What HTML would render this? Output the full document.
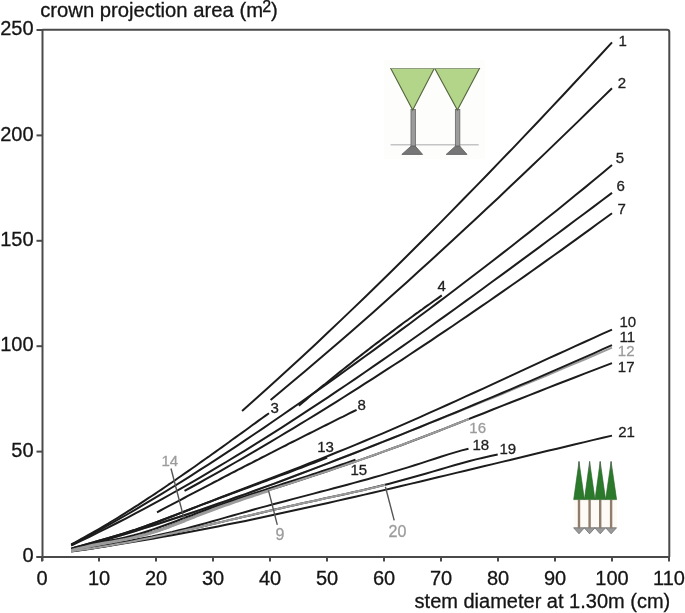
<!DOCTYPE html>
<html><head><meta charset="utf-8"><style>
html,body{margin:0;padding:0;background:#fff;}
svg{display:block;font-family:"Liberation Sans",sans-serif;filter:blur(0.35px);}
text{stroke-width:0.3px;}
</style></head><body>
<svg width="685" height="613" viewBox="0 0 685 613">
<rect width="685" height="613" fill="#fff"/>
<path d="M42.5 29.8 H667 Q669.3 29.8 669.3 32 V557" fill="none" stroke="#4a4a4a" stroke-width="2"/>
<line x1="42.5" y1="29" x2="42.5" y2="561" stroke="#4a4a4a" stroke-width="2"/>
<line x1="36.5" y1="557" x2="669.3" y2="557" stroke="#4a4a4a" stroke-width="2"/>
<line x1="36.5" y1="30.0" x2="42.5" y2="30.0" stroke="#4a4a4a" stroke-width="2"/>
<text x="33.6" y="35.2" text-anchor="end" font-size="20" fill="#151515" stroke="#151515">250</text>
<line x1="36.5" y1="135.4" x2="42.5" y2="135.4" stroke="#4a4a4a" stroke-width="2"/>
<text x="33.6" y="140.6" text-anchor="end" font-size="20" fill="#151515" stroke="#151515">200</text>
<line x1="36.5" y1="240.8" x2="42.5" y2="240.8" stroke="#4a4a4a" stroke-width="2"/>
<text x="33.6" y="246.0" text-anchor="end" font-size="20" fill="#151515" stroke="#151515">150</text>
<line x1="36.5" y1="346.2" x2="42.5" y2="346.2" stroke="#4a4a4a" stroke-width="2"/>
<text x="33.6" y="351.4" text-anchor="end" font-size="20" fill="#151515" stroke="#151515">100</text>
<line x1="36.5" y1="451.6" x2="42.5" y2="451.6" stroke="#4a4a4a" stroke-width="2"/>
<text x="33.6" y="456.8" text-anchor="end" font-size="20" fill="#151515" stroke="#151515">50</text>
<line x1="36.5" y1="557.0" x2="42.5" y2="557.0" stroke="#4a4a4a" stroke-width="2"/>
<text x="33.6" y="562.2" text-anchor="end" font-size="20" fill="#151515" stroke="#151515">0</text>
<line x1="42.0" y1="557" x2="42.0" y2="561.5" stroke="#4a4a4a" stroke-width="2"/>
<text x="42.0" y="584.8" text-anchor="middle" font-size="20" fill="#151515" stroke="#151515">0</text>
<line x1="99.0" y1="557" x2="99.0" y2="561.5" stroke="#4a4a4a" stroke-width="2"/>
<text x="99.0" y="584.8" text-anchor="middle" font-size="20" fill="#151515" stroke="#151515">10</text>
<line x1="156.0" y1="557" x2="156.0" y2="561.5" stroke="#4a4a4a" stroke-width="2"/>
<text x="156.0" y="584.8" text-anchor="middle" font-size="20" fill="#151515" stroke="#151515">20</text>
<line x1="213.0" y1="557" x2="213.0" y2="561.5" stroke="#4a4a4a" stroke-width="2"/>
<text x="213.0" y="584.8" text-anchor="middle" font-size="20" fill="#151515" stroke="#151515">30</text>
<line x1="270.0" y1="557" x2="270.0" y2="561.5" stroke="#4a4a4a" stroke-width="2"/>
<text x="270.0" y="584.8" text-anchor="middle" font-size="20" fill="#151515" stroke="#151515">40</text>
<line x1="327.0" y1="557" x2="327.0" y2="561.5" stroke="#4a4a4a" stroke-width="2"/>
<text x="327.0" y="584.8" text-anchor="middle" font-size="20" fill="#151515" stroke="#151515">50</text>
<line x1="384.0" y1="557" x2="384.0" y2="561.5" stroke="#4a4a4a" stroke-width="2"/>
<text x="384.0" y="584.8" text-anchor="middle" font-size="20" fill="#151515" stroke="#151515">60</text>
<line x1="441.0" y1="557" x2="441.0" y2="561.5" stroke="#4a4a4a" stroke-width="2"/>
<text x="441.0" y="584.8" text-anchor="middle" font-size="20" fill="#151515" stroke="#151515">70</text>
<line x1="498.0" y1="557" x2="498.0" y2="561.5" stroke="#4a4a4a" stroke-width="2"/>
<text x="498.0" y="584.8" text-anchor="middle" font-size="20" fill="#151515" stroke="#151515">80</text>
<line x1="555.0" y1="557" x2="555.0" y2="561.5" stroke="#4a4a4a" stroke-width="2"/>
<text x="555.0" y="584.8" text-anchor="middle" font-size="20" fill="#151515" stroke="#151515">90</text>
<line x1="612.0" y1="557" x2="612.0" y2="561.5" stroke="#4a4a4a" stroke-width="2"/>
<text x="612.0" y="584.8" text-anchor="middle" font-size="20" fill="#151515" stroke="#151515">100</text>
<line x1="669.0" y1="557" x2="669.0" y2="561.5" stroke="#4a4a4a" stroke-width="2"/>
<text x="669.0" y="584.8" text-anchor="middle" font-size="20" fill="#151515" stroke="#151515">110</text>
<text x="40.2" y="17.3" font-size="20.25" fill="#151515" stroke="#151515">crown projection area (m<tspan dx="-0.9" dy="-5.6" font-size="16">2</tspan><tspan dx="0" dy="5.6">)</tspan></text>
<text x="414.6" y="607.6" font-size="20" fill="#151515" stroke="#151515">stem diameter at 1.30m (cm)</text>
<g>
<rect x="384" y="60" width="101" height="99" fill="#fdfdfc"/>
<line x1="390.6" y1="144.8" x2="478.7" y2="144.8" stroke="#c4c4c4" stroke-width="1.6"/>
<rect x="411" y="109.5" width="4.4" height="37" fill="#9c9c9c" stroke="#6e6e6e" stroke-width="0.9"/>
<rect x="455.4" y="109.5" width="4.4" height="37" fill="#9c9c9c" stroke="#6e6e6e" stroke-width="0.9"/>
<path d="M401.8 154.4 L422.6 154.4 L415.2 146 L411.2 146 Z" fill="#767676" stroke="#5a5a5a" stroke-width="0.8"/>
<path d="M446.2 154.4 L467 154.4 L459.6 146 L455.6 146 Z" fill="#767676" stroke="#5a5a5a" stroke-width="0.8"/>
<path d="M390.8 68.5 L434.2 68.5 L412.7 110 Z" fill="#b3d58a" stroke="#56663f" stroke-width="1.1" stroke-linejoin="miter"/>
<path d="M434.8 68.5 L479.4 68.5 L457.4 110 Z" fill="#b3d58a" stroke="#56663f" stroke-width="1.1" stroke-linejoin="miter"/>
<line x1="391" y1="68.5" x2="479" y2="68.5" stroke="#8f9c80" stroke-width="1.2"/>
</g>
<g>
<rect x="574" y="500" width="43" height="28" fill="#fefbf6"/>
<path d="M573.6 527.8 L584.4 527.8 L579.0 533.8 Z" fill="#9a9a9a" stroke="#6a6a6a" stroke-width="0.8" stroke-linejoin="round"/>
<rect x="577.8" y="499.6" width="2.4" height="28.6" fill="#8f7d6e"/>
<path d="M584.2 527.8 L595.0 527.8 L589.6 533.8 Z" fill="#9a9a9a" stroke="#6a6a6a" stroke-width="0.8" stroke-linejoin="round"/>
<rect x="588.4" y="499.6" width="2.4" height="28.6" fill="#8f7d6e"/>
<path d="M594.8 527.8 L605.6 527.8 L600.2 533.8 Z" fill="#9a9a9a" stroke="#6a6a6a" stroke-width="0.8" stroke-linejoin="round"/>
<rect x="599.0" y="499.6" width="2.4" height="28.6" fill="#8f7d6e"/>
<path d="M605.7 527.8 L616.5 527.8 L611.1 533.8 Z" fill="#9a9a9a" stroke="#6a6a6a" stroke-width="0.8" stroke-linejoin="round"/>
<rect x="609.9" y="499.6" width="2.4" height="28.6" fill="#8f7d6e"/>
<path d="M573.7 499.6 L584.4 499.6 L579 461.5 Z" fill="#2b7a2b" stroke="#235f23" stroke-width="0.6" stroke-linejoin="round"/>
<line x1="579" y1="461.5" x2="579" y2="470" stroke="#5a6a5a" stroke-width="1.1"/>
<path d="M584.4 499.6 L595 499.6 L589.6 461.5 Z" fill="#2b7a2b" stroke="#235f23" stroke-width="0.6" stroke-linejoin="round"/>
<line x1="589.6" y1="461.5" x2="589.6" y2="470" stroke="#5a6a5a" stroke-width="1.1"/>
<path d="M595 499.6 L605.6 499.6 L600.2 461.5 Z" fill="#2b7a2b" stroke="#235f23" stroke-width="0.6" stroke-linejoin="round"/>
<line x1="600.2" y1="461.5" x2="600.2" y2="470" stroke="#5a6a5a" stroke-width="1.1"/>
<path d="M605.6 499.6 L616.6 499.6 L611.1 461.5 Z" fill="#2b7a2b" stroke="#235f23" stroke-width="0.6" stroke-linejoin="round"/>
<line x1="611.1" y1="461.5" x2="611.1" y2="470" stroke="#5a6a5a" stroke-width="1.1"/>
</g>
<polyline points="71.2,549.2 80.4,546.8 89.5,544.3 98.7,541.8 107.9,539.2 117.0,536.5 126.2,533.8 135.4,531.0 144.5,528.1 153.7,525.2 162.9,522.3 172.0,519.3 181.2,516.3 190.4,513.2 199.5,510.1 208.7,507.0 217.9,503.8 227.0,500.6 236.2,497.3 245.4,494.1 254.5,490.8 263.7,487.4 272.9,484.1 282.0,480.7 291.2,477.3 300.4,473.8 309.5,470.4 318.7,466.9 327.9,463.4 337.0,459.8 346.2,456.3 355.3,452.7 364.5,449.1 373.7,445.5 382.8,441.9 392.0,438.2 401.2,434.6 410.3,430.9 419.5,427.2 428.7,423.4 437.8,419.8 447.0,416.2 456.2,412.5 465.3,408.8 474.5,405.1 483.7,401.4 492.8,397.7 502.0,394.0 511.2,390.2 520.3,386.4 529.5,382.6 538.7,378.8 547.8,375.0 557.0,371.1 566.2,367.2 575.3,363.4 584.5,359.5 593.7,355.5 602.8,351.6 612.0,347.6" fill="none" stroke="#9c9c9c" stroke-width="2.0" stroke-linecap="butt" stroke-linejoin="round"/>
<polyline points="242.1,410.9 254.4,400.0 266.7,389.0 279.1,377.8 291.4,366.6 303.7,355.2 316.1,343.7 328.4,332.1 340.7,320.4 353.0,308.6 365.4,296.7 377.7,284.8 390.0,272.7 402.4,260.5 414.7,248.3 427.0,236.0 439.4,223.6 451.7,211.1 464.0,198.5 476.4,185.9 488.7,173.2 501.0,160.4 513.4,147.6 525.7,134.6 538.0,121.7 550.3,108.6 562.7,95.5 575.0,82.3 587.3,69.1 599.7,55.8 612.0,42.4" fill="none" stroke="#1c1c1c" stroke-width="2.0" stroke-linecap="butt" stroke-linejoin="round"/>
<polyline points="270.6,400.0 282.0,390.5 293.3,381.1 304.7,371.5 316.1,361.8 327.5,352.1 338.9,342.3 350.2,332.4 361.6,322.4 373.0,312.4 384.4,302.3 395.8,292.1 407.1,281.9 418.5,271.6 429.9,261.2 441.3,250.8 452.7,240.3 464.0,229.8 475.4,219.2 486.8,208.6 498.2,197.9 509.6,187.1 521.0,176.3 532.3,165.5 543.7,154.6 555.1,143.6 566.5,132.6 577.9,121.6 589.2,110.5 600.6,99.4 612.0,88.2" fill="none" stroke="#1c1c1c" stroke-width="2.0" stroke-linecap="butt" stroke-linejoin="round"/>
<polyline points="71.2,544.3 74.6,542.6 77.9,540.8 81.3,538.9 84.6,537.1 88.0,535.2 91.3,533.3 94.7,531.4 98.0,529.5 101.4,527.5 104.7,525.5 108.1,523.6 111.4,521.5 114.8,519.5 118.1,517.5 121.5,515.4 124.8,513.3 128.2,511.2 131.5,509.1 134.9,506.9 138.3,504.8 141.6,502.6 145.0,500.4 148.3,498.2 151.7,496.0 155.0,493.8 158.4,491.5 161.7,489.3 165.1,487.0 168.4,484.7 171.8,482.5 175.1,480.2 178.5,477.8 181.8,475.5 185.2,473.2 188.5,470.9 191.9,468.5 195.2,466.2 198.6,463.8 201.9,461.4 205.3,459.0 208.7,456.7 212.0,454.3 215.4,451.9 218.7,449.5 222.1,447.1 225.4,444.7 228.8,442.3 232.1,439.8 235.5,437.4 238.8,435.0 242.2,432.6 245.5,430.2 248.9,427.7 252.2,425.3 255.6,422.9 258.9,420.4 262.3,418.0 265.6,415.6 269.0,413.2" fill="none" stroke="#1c1c1c" stroke-width="2.0" stroke-linecap="butt" stroke-linejoin="round"/>
<polyline points="298.8,405.8 301.2,403.7 303.6,401.7 306.1,399.7 308.5,397.6 310.9,395.6 313.3,393.6 315.8,391.6 318.2,389.6 320.6,387.6 323.0,385.6 325.5,383.7 327.9,381.7 330.3,379.7 332.7,377.8 335.2,375.8 337.6,373.8 340.0,371.9 342.4,370.0 344.9,368.0 347.3,366.1 349.7,364.2 352.1,362.3 354.5,360.3 357.0,358.4 359.4,356.5 361.8,354.6 364.2,352.8 366.7,350.9 369.1,349.0 371.5,347.1 373.9,345.3 376.4,343.4 378.8,341.6 381.2,339.7 383.6,337.9 386.1,336.0 388.5,334.2 390.9,332.4 393.3,330.6 395.7,328.7 398.2,326.9 400.6,325.1 403.0,323.3 405.4,321.5 407.9,319.8 410.3,318.0 412.7,316.2 415.1,314.4 417.6,312.7 420.0,310.9 422.4,309.2 424.8,307.4 427.3,305.7 429.7,304.0 432.1,302.2 434.5,300.5 437.0,298.8 439.4,297.1 441.8,295.4" fill="none" stroke="#1c1c1c" stroke-width="2.0" stroke-linecap="butt" stroke-linejoin="round"/>
<polyline points="71.2,545.0 80.4,540.3 89.5,535.4 98.7,530.4 107.9,525.4 117.0,520.2 126.2,515.0 135.4,509.6 144.5,504.2 153.7,498.7 162.9,493.2 172.0,487.5 181.2,481.8 190.4,476.1 199.5,470.2 208.7,464.3 217.9,458.4 227.0,452.3 236.2,446.3 245.4,440.1 254.5,434.0 263.7,427.8 272.9,421.5 282.0,415.2 291.2,408.9 300.4,402.5 309.5,396.0 318.7,389.6 327.9,383.1 337.0,376.6 346.2,370.0 355.3,363.4 364.5,356.8 373.7,350.1 382.8,343.4 392.0,336.7 401.2,329.9 410.3,323.2 419.5,316.3 428.7,309.5 437.8,302.6 447.0,295.7 456.2,288.8 465.3,281.8 474.5,274.8 483.7,267.8 492.8,260.7 502.0,253.6 511.2,246.5 520.3,239.3 529.5,232.1 538.7,224.8 547.8,217.5 557.0,210.2 566.2,202.8 575.3,195.3 584.5,187.9 593.7,180.3 602.8,172.7 612.0,165.1" fill="none" stroke="#1c1c1c" stroke-width="2.0" stroke-linecap="butt" stroke-linejoin="round"/>
<polyline points="71.2,545.5 80.4,541.2 89.5,536.8 98.7,532.2 107.9,527.7 117.0,523.0 126.2,518.3 135.4,513.4 144.5,508.6 153.7,503.6 162.9,498.6 172.0,493.5 181.2,488.3 190.4,483.1 199.5,477.8 208.7,472.4 217.9,466.9 227.0,461.5 236.2,455.9 245.4,450.3 254.5,444.6 263.7,438.9 272.9,433.1 282.0,427.3 291.2,421.4 300.4,415.4 309.5,409.4 318.7,403.4 327.9,397.3 337.0,391.2 346.2,385.0 355.3,378.8 364.5,372.5 373.7,366.2 382.8,359.9 392.0,353.5 401.2,347.1 410.3,340.7 419.5,334.2 428.7,327.7 437.8,321.1 447.0,314.6 456.2,308.0 465.3,301.4 474.5,294.7 483.7,288.0 492.8,281.3 502.0,274.6 511.2,267.9 520.3,261.1 529.5,254.4 538.7,247.6 547.8,240.8 557.0,234.0 566.2,227.1 575.3,220.3 584.5,213.5 593.7,206.6 602.8,199.8 612.0,192.9" fill="none" stroke="#1c1c1c" stroke-width="2.0" stroke-linecap="butt" stroke-linejoin="round"/>
<polyline points="184.5,490.9 191.7,487.0 199.0,483.0 206.2,478.9 213.5,474.9 220.7,470.8 228.0,466.6 235.2,462.5 242.5,458.3 249.7,454.1 257.0,449.9 264.2,445.6 271.4,441.3 278.7,437.0 285.9,432.7 293.2,428.3 300.4,423.9 307.7,419.5 314.9,415.1 322.2,410.6 329.4,406.1 336.7,401.6 343.9,397.0 351.2,392.4 358.4,387.8 365.6,383.2 372.9,378.6 380.1,373.9 387.4,369.2 394.6,364.5 401.9,359.8 409.1,355.0 416.4,350.2 423.6,345.4 430.9,340.6 438.1,335.7 445.3,330.8 452.6,326.0 459.8,321.0 467.1,316.1 474.3,311.1 481.6,306.2 488.8,301.2 496.1,296.1 503.3,291.1 510.6,286.0 517.8,281.0 525.1,275.9 532.3,270.7 539.5,265.6 546.8,260.4 554.0,255.3 561.3,250.1 568.5,244.9 575.8,239.6 583.0,234.4 590.3,229.1 597.5,223.8 604.8,218.5 612.0,213.2" fill="none" stroke="#1c1c1c" stroke-width="2.0" stroke-linecap="butt" stroke-linejoin="round"/>
<polyline points="157.0,512.3 160.4,510.5 163.8,508.7 167.1,506.9 170.5,505.2 173.9,503.4 177.3,501.6 180.7,499.8 184.1,498.0 187.4,496.2 190.8,494.4 194.2,492.7 197.6,490.9 201.0,489.1 204.4,487.3 207.7,485.6 211.1,483.8 214.5,482.0 217.9,480.3 221.3,478.5 224.7,476.7 228.0,475.0 231.4,473.2 234.8,471.5 238.2,469.7 241.6,468.0 245.0,466.2 248.3,464.5 251.7,462.8 255.1,461.0 258.5,459.3 261.9,457.5 265.3,455.8 268.6,454.1 272.0,452.4 275.4,450.6 278.8,448.9 282.2,447.2 285.6,445.5 288.9,443.7 292.3,442.0 295.7,440.3 299.1,438.6 302.5,436.9 305.9,435.2 309.2,433.5 312.6,431.8 316.0,430.1 319.4,428.4 322.8,426.7 326.2,425.0 329.5,423.3 332.9,421.6 336.3,419.9 339.7,418.2 343.1,416.6 346.5,414.9 349.8,413.2 353.2,411.5 356.6,409.9" fill="none" stroke="#1c1c1c" stroke-width="2.0" stroke-linecap="butt" stroke-linejoin="round"/>
<polyline points="71.2,548.6 80.4,546.0 89.5,543.4 98.7,540.8 107.9,538.2 117.0,535.5 126.2,532.7 135.4,529.7 144.5,526.5 153.7,523.2 162.9,519.8 172.0,516.3 181.2,512.8 190.4,509.2 199.5,505.6 208.7,502.1 217.9,498.5 227.0,495.0 236.2,491.5 245.4,488.0 254.5,484.5 263.7,481.0 272.9,477.5 282.0,474.0 291.2,470.4 300.4,466.9 309.5,463.3 318.7,459.7 327.9,456.0 337.0,452.3 346.2,448.6 355.3,444.9 364.5,441.0 373.7,437.2 382.8,433.3 392.0,429.3 401.2,425.3 410.3,421.3 419.5,417.3 428.7,413.2 437.8,409.1 447.0,405.0 456.2,400.8 465.3,396.6 474.5,392.5 483.7,388.3 492.8,384.1 502.0,379.8 511.2,375.6 520.3,371.4 529.5,367.2 538.7,362.9 547.8,358.7 557.0,354.5 566.2,350.3 575.3,346.1 584.5,342.0 593.7,337.8 602.8,333.7 612.0,329.6" fill="none" stroke="#1c1c1c" stroke-width="2.0" stroke-linecap="butt" stroke-linejoin="round"/>
<polyline points="71.2,548.6 75.5,547.3 79.9,546.1 84.2,544.9 88.5,543.7 92.9,542.5 97.2,541.2 101.6,540.0 105.9,538.8 110.2,537.5 114.6,536.2 118.9,534.9 123.2,533.6 127.6,532.2 131.9,530.8 136.3,529.4 140.6,527.9 144.9,526.4 149.3,524.8 153.6,523.3 157.9,521.7 162.3,520.0 166.6,518.4 171.0,516.7 175.3,515.1 179.6,513.4 184.0,511.7 188.3,510.0 192.6,508.3 197.0,506.6 201.3,504.9 205.7,503.3 210.0,501.7 214.3,500.1 218.7,498.4 223.0,496.8 227.3,495.2 231.7,493.6 236.0,492.0 240.4,490.4 244.7,488.8 249.0,487.2 253.4,485.6 257.7,484.0 262.0,482.4 266.4,480.7 270.7,479.1 275.1,477.5 279.4,475.9 283.7,474.3 288.1,472.7 292.4,471.1 296.7,469.4 301.1,467.8 305.4,466.1 309.8,464.4 314.1,462.7 318.4,461.0 322.8,459.3 327.1,457.5" fill="none" stroke="#1c1c1c" stroke-width="2.0" stroke-linecap="butt" stroke-linejoin="round"/>
<polyline points="71.2,549.2 80.4,546.8 89.5,544.3 98.7,541.8 107.9,539.2 117.0,536.5 126.2,533.8 135.4,531.0 144.5,528.1 153.7,525.2 162.9,522.3 172.0,519.3 181.2,516.3 190.4,513.2 199.5,510.1 208.7,507.0 217.9,503.8 227.0,500.6 236.2,497.3 245.4,494.1 254.5,490.8 263.7,487.4 272.9,484.1 282.0,480.7 291.2,477.3 300.4,473.8 309.5,470.4 318.7,466.9 327.9,463.4 337.0,459.8 346.2,456.3 355.3,452.7 364.5,449.1 373.7,445.5 382.8,441.9 392.0,438.2 401.2,434.6 410.3,430.9 419.5,427.2 428.7,423.4 437.8,419.7 447.0,415.9 456.2,412.2 465.3,408.4 474.5,404.5 483.7,400.7 492.8,396.8 502.0,393.0 511.2,389.1 520.3,385.2 529.5,381.3 538.7,377.3 547.8,373.4 557.0,369.4 566.2,365.4 575.3,361.4 584.5,357.3 593.7,353.3 602.8,349.2 612.0,345.1" fill="none" stroke="#1c1c1c" stroke-width="2.0" stroke-linecap="butt" stroke-linejoin="round"/>
<polyline points="71.2,549.6 76.0,548.1 80.8,546.8 85.7,545.5 90.5,544.5 95.3,543.4 100.1,542.5 104.9,541.5 109.7,540.6 114.6,539.7 119.4,538.7 124.2,537.6 129.0,536.5 133.8,535.3 138.7,533.9 143.5,532.5 148.3,531.0 153.1,529.4 157.9,527.7 162.8,526.0 167.6,524.3 172.4,522.5 177.2,520.7 182.0,518.8 186.8,517.0 191.7,515.2 196.5,513.3 201.3,511.5 206.1,509.8 210.9,508.0 215.8,506.3 220.6,504.6 225.4,502.9 230.2,501.3 235.0,499.6 239.9,498.0 244.7,496.4 249.5,494.8 254.3,493.2 259.1,491.6 263.9,490.1 268.8,488.5 273.6,487.0 278.4,485.4 283.2,483.8 288.0,482.3 292.9,480.7 297.7,479.2 302.5,477.6 307.3,476.1 312.1,474.5 317.0,472.9 321.8,471.3 326.6,469.7 331.4,468.1 336.2,466.4 341.0,464.8 345.9,463.1 350.7,461.4 355.5,459.7" fill="none" stroke="#1c1c1c" stroke-width="2.0" stroke-linecap="butt" stroke-linejoin="round"/>
<polyline points="71.2,550.0 80.4,547.6 89.5,545.5 98.7,543.7 107.9,542.1 117.0,540.4 126.2,538.6 135.4,536.6 144.5,534.3 153.7,531.6 162.9,528.6 172.0,525.2 181.2,521.7 190.4,518.0 199.5,514.4 208.7,510.8 217.9,507.5 227.0,504.2 236.2,501.0 245.4,497.9 254.5,494.8 263.7,491.9 272.9,488.9 282.0,486.0 291.2,483.0 300.4,480.1 309.5,477.1 318.7,474.1 327.9,471.0 337.0,467.9 346.2,464.8 355.3,461.6 364.5,458.4 373.7,455.2 382.8,451.9 392.0,448.5 401.2,445.2 410.3,441.7 419.5,438.3 428.7,434.7 437.8,431.2 447.0,427.6 456.2,424.0 465.3,420.4 474.5,416.8 483.7,413.2 492.8,409.5 502.0,405.9 511.2,402.3 520.3,398.7 529.5,395.1 538.7,391.5 547.8,387.9 557.0,384.3 566.2,380.7 575.3,377.2 584.5,373.6 593.7,370.1 602.8,366.6 612.0,363.1" fill="none" stroke="#1c1c1c" stroke-width="2.0" stroke-linecap="butt" stroke-linejoin="round"/>
<polyline points="71.2,551.0 77.9,549.7 84.7,548.4 91.4,547.2 98.1,546.1 104.9,544.9 111.6,543.8 118.3,542.6 125.1,541.5 131.8,540.3 138.5,539.1 145.3,537.8 152.0,536.5 158.7,535.0 165.5,533.5 172.2,532.0 178.9,530.3 185.7,528.6 192.4,526.8 199.1,525.0 205.9,523.1 212.6,521.3 219.3,519.4 226.1,517.4 232.8,515.5 239.5,513.6 246.3,511.7 253.0,509.8 259.7,507.9 266.5,506.1 273.2,504.3 280.0,502.5 286.7,500.7 293.4,498.9 300.2,497.1 306.9,495.4 313.6,493.6 320.4,491.8 327.1,490.1 333.8,488.3 340.6,486.5 347.3,484.7 354.0,482.9 360.8,481.0 367.5,479.2 374.2,477.3 381.0,475.4 387.7,473.4 394.4,471.4 401.2,469.4 407.9,467.4 414.6,465.3 421.4,463.1 428.1,460.9 434.8,458.7 441.6,456.5 448.3,454.4 455.0,452.4 461.8,450.4 468.5,448.7" fill="none" stroke="#1c1c1c" stroke-width="2.0" stroke-linecap="butt" stroke-linejoin="round"/>
<polyline points="71.2,551.2 78.4,550.3 85.7,549.3 92.9,548.2 100.1,547.1 107.3,545.9 114.6,544.6 121.8,543.3 129.0,542.0 136.3,540.6 143.5,539.2 150.7,537.7 157.9,536.2 165.2,534.7 172.4,533.1 179.6,531.6 186.9,529.9 194.1,528.3 201.3,526.7 208.5,525.0 215.8,523.3 223.0,521.6 230.2,519.9 237.5,518.2 244.7,516.5 251.9,514.9 259.1,513.2 266.4,511.5 273.6,509.8 280.8,508.2 288.1,506.5 295.3,504.9 302.5,503.3 309.8,501.7 317.0,500.2 324.2,498.6 331.4,497.1 338.7,495.5 345.9,493.9 353.1,492.3 360.4,490.7 367.6,489.0 374.8,487.3 382.0,485.5 389.3,483.7 396.5,481.8 403.7,479.8 411.0,477.8 418.2,475.8 425.4,473.7 432.6,471.6 439.9,469.5 447.1,467.4 454.3,465.3 461.6,463.3 468.8,461.3 476.0,459.4 483.2,457.7 490.5,456.1 497.7,454.6" fill="none" stroke="#1c1c1c" stroke-width="2.0" stroke-linecap="butt" stroke-linejoin="round"/>
<polyline points="71.2,551.6 80.4,550.3 89.5,548.9 98.7,547.5 107.9,546.1 117.0,544.6 126.2,543.1 135.4,541.6 144.5,540.0 153.7,538.4 162.9,536.8 172.0,535.2 181.2,533.5 190.4,531.7 199.5,530.0 208.7,528.2 217.9,526.4 227.0,524.6 236.2,522.7 245.4,520.9 254.5,519.0 263.7,517.0 272.9,515.1 282.0,513.1 291.2,511.1 300.4,509.1 309.5,507.1 318.7,505.1 327.9,503.0 337.0,500.9 346.2,498.8 355.3,496.7 364.5,494.6 373.7,492.5 382.8,490.4 392.0,488.2 401.2,486.0 410.3,483.9 419.5,481.7 428.7,479.5 437.8,477.3 447.0,475.1 456.2,472.9 465.3,470.7 474.5,468.5 483.7,466.3 492.8,464.1 502.0,461.9 511.2,459.7 520.3,457.5 529.5,455.3 538.7,453.0 547.8,450.8 557.0,448.7 566.2,446.5 575.3,444.3 584.5,442.1 593.7,439.9 602.8,437.8 612.0,435.6" fill="none" stroke="#1c1c1c" stroke-width="2.0" stroke-linecap="butt" stroke-linejoin="round"/>
<polyline points="71.2,550.0 77.9,548.2 84.7,546.6 91.4,545.1 98.2,543.8 104.9,542.6 111.7,541.4 118.4,540.2 125.1,538.9 131.9,537.4 138.6,535.8 145.4,534.1 152.1,532.1 158.9,530.0 165.6,527.6 172.3,525.1 179.1,522.5 185.8,519.8 192.6,517.1 199.3,514.5 206.0,511.9 212.8,509.3 219.5,506.8 226.3,504.4 233.0,502.1 239.8,499.8 246.5,497.5 253.2,495.3 260.0,493.1 266.7,490.9 273.5,488.7 280.2,486.5 287.0,484.4 293.7,482.2 300.4,480.0 307.2,477.8 313.9,475.6 320.7,473.4 327.4,471.2 334.2,468.9 340.9,466.6 347.6,464.3 354.4,462.0 361.1,459.6 367.9,457.2 374.6,454.8 381.3,452.4 388.1,450.0 394.8,447.5 401.6,445.0 408.3,442.5 415.1,439.9 421.8,437.4 428.5,434.8 435.3,432.2 442.0,429.6 448.8,426.9 455.5,424.3 462.3,421.6 469.0,419.0" fill="none" stroke="#9c9c9c" stroke-width="2.0" stroke-linecap="butt" stroke-linejoin="round"/>
<polyline points="71.2,551.2 76.5,550.5 81.8,549.8 87.2,549.0 92.5,548.3 97.8,547.4 103.1,546.6 108.5,545.7 113.8,544.8 119.1,543.8 124.4,542.9 129.7,541.9 135.1,540.9 140.4,539.8 145.7,538.8 151.0,537.7 156.4,536.6 161.7,535.5 167.0,534.3 172.3,533.2 177.6,532.0 183.0,530.8 188.3,529.6 193.6,528.4 198.9,527.2 204.3,526.0 209.6,524.8 214.9,523.5 220.2,522.3 225.5,521.0 230.9,519.8 236.2,518.5 241.5,517.3 246.8,516.0 252.1,514.8 257.5,513.6 262.8,512.3 268.1,511.1 273.4,509.9 278.8,508.6 284.1,507.4 289.4,506.2 294.7,505.0 300.0,503.8 305.4,502.7 310.7,501.5 316.0,500.4 321.3,499.2 326.7,498.1 332.0,497.0 337.3,495.8 342.6,494.6 347.9,493.5 353.3,492.3 358.6,491.1 363.9,489.9 369.2,488.6 374.6,487.4 379.9,486.1 385.2,484.7" fill="none" stroke="#9c9c9c" stroke-width="2.0" stroke-linecap="butt" stroke-linejoin="round"/>
<polyline points="71.2,551.0 74.5,550.0 77.9,549.2 81.2,548.4 84.6,547.6 87.9,546.9 91.3,546.2 94.6,545.5 98.0,544.9 101.3,544.3 104.7,543.7 108.0,543.1 111.3,542.5 114.7,541.8 118.0,541.2 121.4,540.6 124.7,539.9 128.1,539.2 131.4,538.5 134.8,537.8 138.1,537.0 141.5,536.1 144.8,535.2 148.2,534.3 151.5,533.3 154.8,532.3 158.2,531.2 161.5,530.1 164.9,528.9 168.2,527.7 171.6,526.4 174.9,525.1 178.3,523.8 181.6,522.5 185.0,521.2 188.3,519.8 191.6,518.5 195.0,517.2 198.3,515.8 201.7,514.5 205.0,513.2 208.4,512.0 211.7,510.7 215.1,509.5 218.4,508.3 221.8,507.0 225.1,505.9 228.5,504.7 231.8,503.5 235.1,502.3 238.5,501.2 241.8,500.1 245.2,498.9 248.5,497.8 251.9,496.7 255.2,495.6 258.6,494.5 261.9,493.4 265.3,492.4 268.6,491.3" fill="none" stroke="#9c9c9c" stroke-width="2.0" stroke-linecap="butt" stroke-linejoin="round"/>
<polyline points="71.2,550.8 73.1,550.2 75.0,549.7 76.9,549.2 78.8,548.7 80.8,548.3 82.7,547.8 84.6,547.4 86.5,547.0 88.4,546.6 90.3,546.2 92.2,545.8 94.1,545.4 96.1,545.0 98.0,544.7 99.9,544.3 101.8,544.0 103.7,543.6 105.6,543.3 107.5,542.9 109.4,542.6 111.3,542.3 113.3,541.9 115.2,541.6 117.1,541.2 119.0,540.9 120.9,540.5 122.8,540.1 124.7,539.7 126.6,539.3 128.6,538.9 130.5,538.5 132.4,538.1 134.3,537.7 136.2,537.2 138.1,536.8 140.0,536.3 141.9,535.8 143.9,535.3 145.8,534.7 147.7,534.2 149.6,533.7 151.5,533.1 153.4,532.5 155.3,531.9 157.2,531.3 159.1,530.7 161.1,530.0 163.0,529.4 164.9,528.7 166.8,528.0 168.7,527.3 170.6,526.6 172.5,525.9 174.4,525.1 176.4,524.4 178.3,523.6 180.2,522.9 182.1,522.1 184.0,521.4" fill="none" stroke="#9c9c9c" stroke-width="2.0" stroke-linecap="butt" stroke-linejoin="round"/>
<line x1="171" y1="468.5" x2="184" y2="518.5" stroke="#555" stroke-width="1.4"/>
<line x1="268.5" y1="490.4" x2="277.3" y2="524.9" stroke="#555" stroke-width="1.4"/>
<line x1="385.4" y1="486.8" x2="394.2" y2="520.4" stroke="#555" stroke-width="1.4"/>
<text x="618.5" y="45.8" fill="#1e1e1e" stroke="#1e1e1e" font-size="15">1</text>
<text x="617.8" y="87.7" fill="#1e1e1e" stroke="#1e1e1e" font-size="15">2</text>
<text x="615.7" y="162.9" fill="#1e1e1e" stroke="#1e1e1e" font-size="15">5</text>
<text x="616.5" y="190.6" fill="#1e1e1e" stroke="#1e1e1e" font-size="15">6</text>
<text x="617.5" y="214.3" fill="#1e1e1e" stroke="#1e1e1e" font-size="15">7</text>
<text x="437.6" y="290.9" fill="#1e1e1e" stroke="#1e1e1e" font-size="15">4</text>
<text x="270.5" y="413.2" fill="#1e1e1e" stroke="#1e1e1e" font-size="15">3</text>
<text x="357.5" y="409.9" fill="#1e1e1e" stroke="#1e1e1e" font-size="15">8</text>
<text x="619.5" y="326.6" fill="#1e1e1e" stroke="#1e1e1e" font-size="15">10</text>
<text x="619.5" y="341.8" fill="#1e1e1e" stroke="#1e1e1e" font-size="15">11</text>
<text x="617.8" y="356.2" fill="#9c9c9c" stroke="#9c9c9c" font-size="15">12</text>
<text x="617.8" y="371.5" fill="#1e1e1e" stroke="#1e1e1e" font-size="15">17</text>
<text x="317.2" y="452.1" fill="#1e1e1e" stroke="#1e1e1e" font-size="15">13</text>
<text x="161.5" y="465.5" fill="#9c9c9c" stroke="#9c9c9c" font-size="15">14</text>
<text x="350.5" y="475.0" fill="#1e1e1e" stroke="#1e1e1e" font-size="15">15</text>
<text x="469.3" y="432.5" fill="#9c9c9c" stroke="#9c9c9c" font-size="15">16</text>
<text x="472.5" y="449.6" fill="#1e1e1e" stroke="#1e1e1e" font-size="15">18</text>
<text x="499.4" y="454.4" fill="#1e1e1e" stroke="#1e1e1e" font-size="15">19</text>
<text x="618.2" y="436.9" fill="#1e1e1e" stroke="#1e1e1e" font-size="15">21</text>
<text x="275.5" y="539.5" fill="#9c9c9c" stroke="#9c9c9c" font-size="16">9</text>
<text x="388.5" y="536.5" fill="#9c9c9c" stroke="#9c9c9c" font-size="16">20</text>
</svg>
</body></html>
